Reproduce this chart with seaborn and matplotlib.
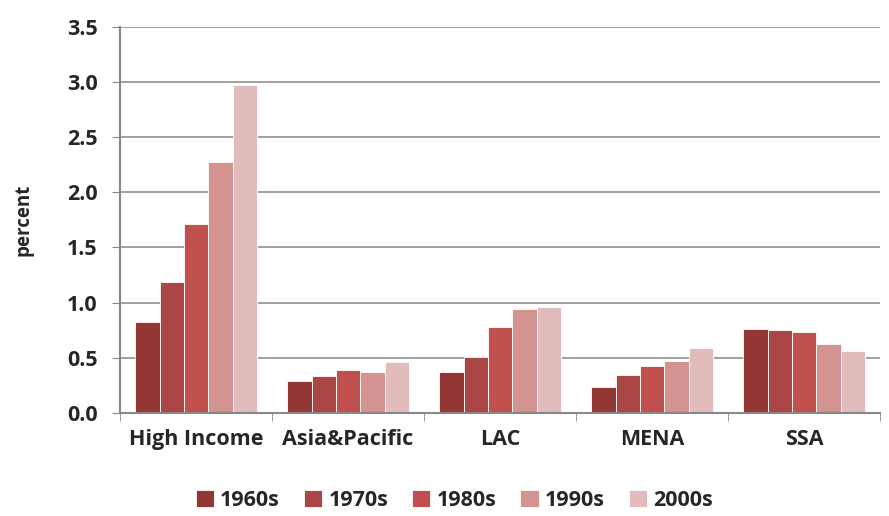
import pandas as pd
import matplotlib
matplotlib.use('Agg')
import matplotlib.pyplot as plt
import seaborn as sns

regions = ['High Income', 'Asia&Pacific', 'LAC', 'MENA', 'SSA']
decades = ['1960s', '1970s', '1980s', '1990s', '2000s']
v1960s = [0.82, 0.29, 0.37, 0.23, 0.76]
v1970s = [1.19, 0.335, 0.51, 0.345, 0.75]
v1980s = [1.71, 0.39, 0.78, 0.42, 0.735]
v1990s = [2.27, 0.37, 0.94, 0.47, 0.625]
v2000s = [2.97, 0.46, 0.96, 0.59, 0.56]
colors = ['#943634', '#AA4644', '#C0504D', '#D39391', '#E2BCBC']

rows = []
for dec, vals in zip(decades, [v1960s, v1970s, v1980s, v1990s, v2000s]):
    for reg, v in zip(regions, vals):
        rows.append({'region': reg, 'decade': dec, 'value': v})
df = pd.DataFrame(rows)

sns.set_style('white')
plt.rcParams['font.family'] = ['Open Sans', 'DejaVu Sans']
plt.rcParams['font.weight'] = 'bold'

fig = plt.figure(figsize=(8.89, 5.16), dpi=100)
ax = fig.add_axes([0.135, 0.2, 0.855, 0.748])

sns.barplot(data=df, x='region', y='value', hue='decade', order=regions,
            hue_order=decades, palette=colors, width=0.8, ax=ax,
            edgecolor='white', linewidth=0.6, saturation=1)

ax.set_ylim(0, 3.5)
ax.set_xlim(-0.5, 4.5)
ax.set_yticks([0, 0.5, 1.0, 1.5, 2.0, 2.5, 3.0, 3.5])
ax.set_yticklabels([f'{t:.1f}' for t in ax.get_yticks()], fontsize=15.5, fontweight='bold')
ax.set_xticks(range(len(regions)))
ax.set_xticklabels(regions, fontsize=15.5, fontweight='bold')
ax.tick_params(axis='x', length=0, pad=12)
ax.tick_params(axis='y', length=6, color='#888888', direction='out', left=True, pad=10)
ax.set_xticks([-0.5, 0.5, 1.5, 2.5, 3.5, 4.5], minor=True)
ax.tick_params(axis='x', which='minor', length=6, color='#888888', bottom=True)

ax.set_xlabel('')
ax.set_ylabel('percent', fontsize=13.5, fontweight='bold', labelpad=24)
ax.yaxis.grid(True, color='#999999', linewidth=1.3)
ax.set_axisbelow(True)
for s in ['top', 'right']:
    ax.spines[s].set_visible(False)
for s in ['left', 'bottom']:
    ax.spines[s].set_color('#888888')
    ax.spines[s].set_linewidth(1.5)

ax.legend(loc='upper center', bbox_to_anchor=(0.44, -0.15), ncol=5, frameon=False,
          prop={'size': 15.5, 'weight': 'bold'}, handlelength=0.85, handleheight=0.85,
          handletextpad=0.3, columnspacing=1.1)

fig.savefig('out.png', dpi=100)
